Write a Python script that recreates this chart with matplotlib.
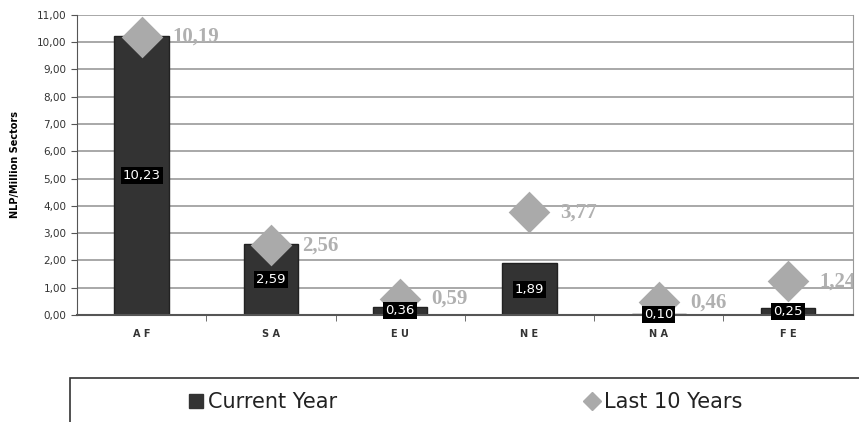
import numpy as np
import matplotlib
matplotlib.use('Agg')
import matplotlib.pyplot as plt
from matplotlib.patches import Rectangle
from matplotlib.lines import Line2D

# datos
regiones = ['AF', 'SA', 'EU', 'NE', 'NA', 'FE']
actual = [10.23, 2.59, 0.30, 1.89, 0.05, 0.25]
actual_txt = ['10,23', '2,59', '0,36', '1,89', '0,10', '0,25']
ultimos10 = [10.19, 2.56, 0.59, 3.77, 0.46, 1.24]
ultimos10_txt = ['10,19', '2,56', '0,59', '3,77', '0,46', '1,24']
yticks = np.arange(0, 12, 1)

fig = plt.figure(figsize=(8.59, 4.22), dpi=100)
ax = fig.add_axes([0.0896, 0.2536, 0.903, 0.711])

x = np.arange(len(regiones))
ax.bar(x, actual, width=0.42, color='#333333', edgecolor='#222222', zorder=2)
ax.scatter(x, ultimos10, marker='D', s=450, color='#aaaaaa', zorder=4, linewidths=0)

for i in range(len(regiones)):
    ax.text(x[i], actual[i] / 2, actual_txt[i], color='white', fontsize=9.5,
            ha='center', va='center', zorder=5,
            bbox=dict(boxstyle='square,pad=0.15', fc='black', ec='none'))
    ax.text(x[i] + 0.24, ultimos10[i], ultimos10_txt[i], color='#b0b0b0',
            fontsize=15, family='Liberation Serif', fontweight='bold',
            ha='left', va='center', zorder=5, clip_on=True)

ax.set_xlim(-0.5, len(regiones) - 0.5)
ax.set_ylim(0, 11)
ax.set_yticks(yticks)
ax.set_yticklabels(['%d,00' % v for v in yticks], fontsize=7.5, color='#333333')
ax.yaxis.grid(True, color='#999999', linewidth=1.2, zorder=0)
ax.set_axisbelow(True)

ax.set_xticks(x)
ax.set_xticklabels([' '.join(r) for r in regiones], fontsize=7, fontweight='bold', color='#333333')
ax.tick_params(axis='x', length=0, pad=10)
ax.set_xticks(np.arange(0.5, len(regiones) - 0.5, 1), minor=True)
ax.tick_params(axis='x', which='minor', length=4, direction='out', color='#555555')
ax.tick_params(axis='y', length=4, color='#555555')

ax.set_ylabel('NLP/Million Sectors', fontsize=7, fontweight='bold', labelpad=12)

ax.spines['top'].set_visible(False)
ax.spines['left'].set_color('#555555')
ax.spines['bottom'].set_color('#555555')
ax.spines['bottom'].set_linewidth(1.5)
ax.spines['right'].set_color('#999999')

# leyenda
fig.patches.append(Rectangle((0.0815, -0.05), 1.0, 0.154, transform=fig.transFigure,
                             fill=False, edgecolor='#333333', linewidth=1.2))
handles = [Line2D([], [], marker='s', linestyle='none', color='#333333', markersize=10),
           Line2D([], [], marker='D', linestyle='none', color='#aaaaaa', markersize=9)]
fig.legend(handles, ['Current Year', 'Last 10 Years'], ncol=2, frameon=False,
           loc='center', bbox_to_anchor=(0.54, 0.047), fontsize=15,
           handletextpad=0.1, columnspacing=11.7, handlelength=1.0,
           labelcolor='#222222')

fig.savefig('out.png', dpi=100)
